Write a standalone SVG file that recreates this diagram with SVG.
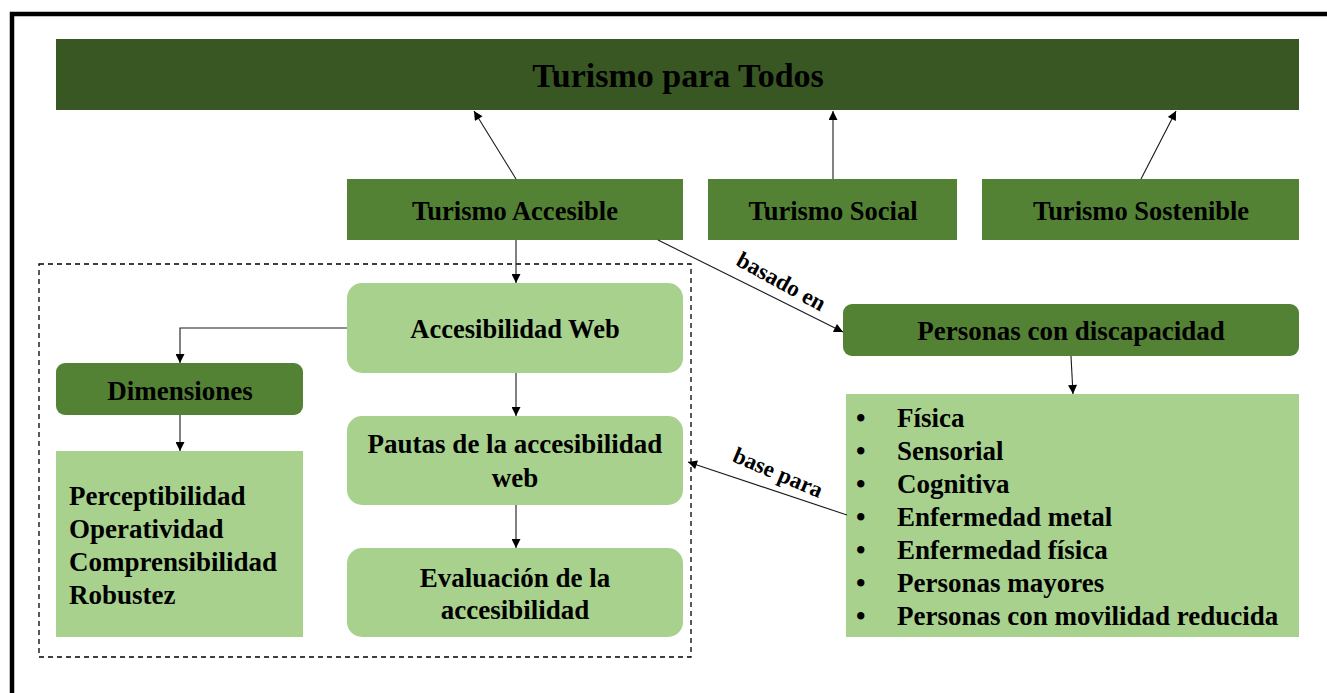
<svg xmlns="http://www.w3.org/2000/svg" width="1327" height="693" viewBox="0 0 1327 693">
  <style>
    .t { font-family: "Liberation Serif", "Times New Roman", serif; font-weight: bold; fill: #000; }
    .c { text-anchor: middle; }
    .dark { fill: #385723; }
    .mid { fill: #548235; }
    .light { fill: #A9D18E; }
    .conn { stroke: #1a1a1a; stroke-width: 1.1; fill: none; }
  </style>
  <defs>
    <marker id="ah" viewBox="0 0 10 10" refX="10" refY="5" markerWidth="11" markerHeight="9" markerUnits="userSpaceOnUse" orient="auto">
      <path d="M0,0 L10,5 L0,10 z" fill="#000"/>
    </marker>
  </defs>
  <rect x="0" y="0" width="1327" height="693" fill="#fff"/>
  <!-- frame -->
  <path d="M12,693 L12,14 L1327,14" fill="none" stroke="#000" stroke-width="4.5"/>

  <g id="turismo-para-todos">
    <rect class="dark" x="56" y="39" width="1243" height="71"/>
    <text class="t c" x="678" y="87" font-size="34">Turismo para Todos</text>
  </g>
  <g id="turismo-accesible">
    <rect class="mid" x="347" y="179" width="336" height="61"/>
    <text class="t c" x="515" y="220" font-size="26.5">Turismo Accesible</text>
  </g>
  <g id="turismo-social">
    <rect class="mid" x="708" y="179" width="249" height="61"/>
    <text class="t c" x="833" y="220" font-size="26.5">Turismo Social</text>
  </g>
  <g id="turismo-sostenible">
    <rect class="mid" x="982" y="179" width="317" height="61"/>
    <text class="t c" x="1141" y="220" font-size="26.5">Turismo Sostenible</text>
  </g>

  <g id="grupo-web">
    <rect x="39" y="264" width="652" height="393" fill="none" stroke="#000" stroke-width="1.3" stroke-dasharray="5,4"/>
  </g>
  <g id="accesibilidad-web">
    <rect class="light" x="347" y="283" width="336" height="90" rx="15"/>
    <text class="t c" x="515" y="338" font-size="26.5">Accesibilidad Web</text>
  </g>
  <g id="dimensiones">
    <rect class="mid" x="56" y="363" width="247" height="52" rx="9"/>
    <text class="t c" x="180" y="400" font-size="27">Dimensiones</text>
  </g>
  <g id="lista-dimensiones">
    <rect class="light" x="56" y="451" width="247" height="186"/>
    <text class="t" x="69" y="505" font-size="27">Perceptibilidad</text>
    <text class="t" x="69" y="538" font-size="27">Operatividad</text>
    <text class="t" x="69" y="571" font-size="27">Comprensibilidad</text>
    <text class="t" x="69" y="604" font-size="27">Robustez</text>
  </g>
  <g id="pautas">
    <rect class="light" x="347" y="416" width="336" height="89" rx="15"/>
    <text class="t c" x="515" y="453" font-size="27">Pautas de la accesibilidad</text>
    <text class="t c" x="515" y="487" font-size="27">web</text>
  </g>
  <g id="evaluacion">
    <rect class="light" x="347" y="548" width="336" height="89" rx="15"/>
    <text class="t c" x="515" y="587" font-size="27">Evaluación de la</text>
    <text class="t c" x="515" y="619" font-size="27">accesibilidad</text>
  </g>
  <g id="personas-discapacidad">
    <rect class="mid" x="843" y="304" width="456" height="52" rx="9"/>
    <text class="t c" x="1071" y="340" font-size="27">Personas con discapacidad</text>
  </g>
  <g id="lista-discapacidad">
    <rect class="light" x="846" y="394" width="453" height="243"/>
    <g class="t" font-size="27">
      <text x="856" y="427">•</text><text x="897" y="427">Física</text>
      <text x="856" y="460">•</text><text x="897" y="460">Sensorial</text>
      <text x="856" y="493">•</text><text x="897" y="493">Cognitiva</text>
      <text x="856" y="526">•</text><text x="897" y="526">Enfermedad metal</text>
      <text x="856" y="559">•</text><text x="897" y="559">Enfermedad física</text>
      <text x="856" y="592">•</text><text x="897" y="592">Personas mayores</text>
      <text x="856" y="625">•</text><text x="897" y="625">Personas con movilidad reducida</text>
    </g>
  </g>

  <g id="connectors">
    <line class="conn" x1="516" y1="179" x2="474" y2="111" marker-end="url(#ah)"/>
    <line class="conn" x1="833" y1="179" x2="833" y2="111" marker-end="url(#ah)"/>
    <line class="conn" x1="1141" y1="179" x2="1176" y2="111" stroke-width="1.8" marker-end="url(#ah)"/>
    <line class="conn" x1="516" y1="240" x2="516" y2="283" marker-end="url(#ah)"/>
    <polyline class="conn" points="347,328 180,328 180,363" marker-end="url(#ah)"/>
    <line class="conn" x1="180" y1="415" x2="180" y2="451" marker-end="url(#ah)"/>
    <line class="conn" x1="516" y1="373" x2="516" y2="416" marker-end="url(#ah)"/>
    <line class="conn" x1="516" y1="505" x2="516" y2="548" marker-end="url(#ah)"/>
    <line class="conn" x1="658" y1="240" x2="843" y2="332" marker-end="url(#ah)"/>
    <line class="conn" x1="1071" y1="356" x2="1073" y2="394" marker-end="url(#ah)"/>
    <line class="conn" x1="847" y1="515" x2="688" y2="462" marker-end="url(#ah)"/>
    <text class="t c" font-size="23" transform="translate(781,282) rotate(29)" x="0" y="7">basado en</text>
    <text class="t c" font-size="23" transform="translate(777,475) rotate(23)" x="0" y="5">base para</text>
  </g>
</svg>
